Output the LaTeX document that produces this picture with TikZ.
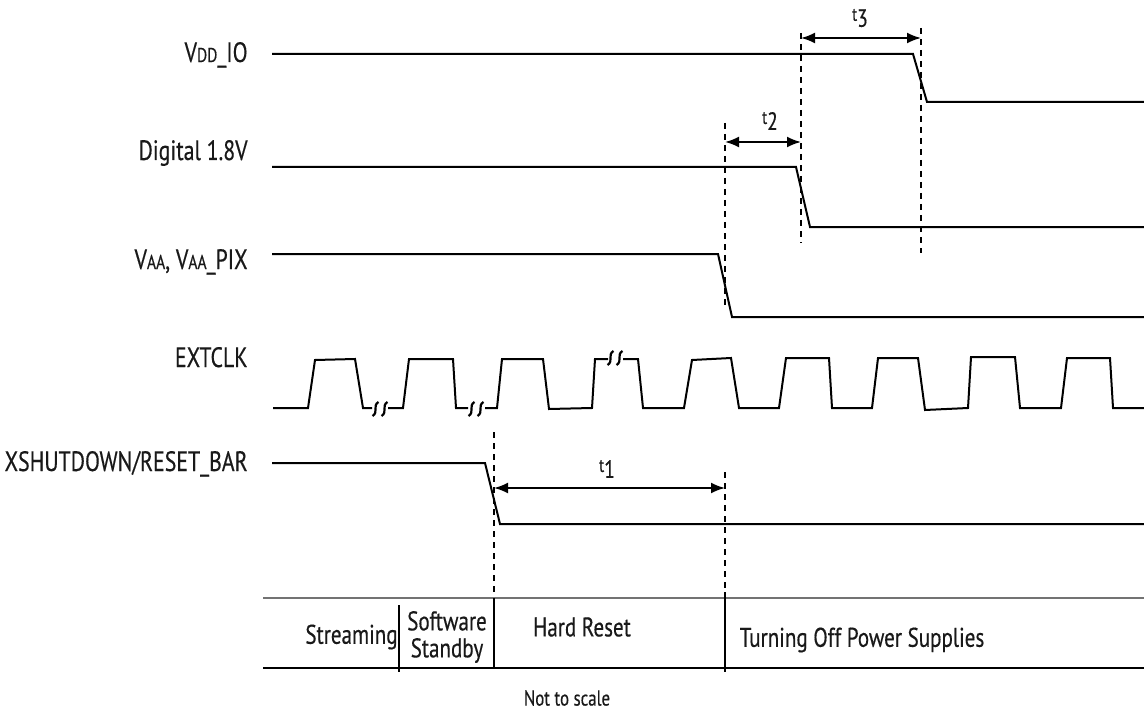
\documentclass[tikz,border=0pt]{standalone}
\usepackage{fontspec}
\setmainfont{PT Sans}[FakeStretch=0.78, FakeBold=0.4]
\usepackage{tikz}
\usetikzlibrary{arrows.meta}

% small capitals in the supply names
\newcommand{\lowcap}[1]{{\fontsize{10}{10}\selectfont #1}}
% timing parameter: small t with a larger index set low
\newcommand{\tpar}[1]{t\raisebox{-3pt}{\fontsize{12.5}{13}\selectfont #1}}

\tikzset{
    brk/.pic={\foreach \d in {-4.5,4.5}
        \draw[line width=1.1pt] (\d+3,-7) .. controls (\d-3.5,-3) and (\d+3.5,3) .. (\d-3,7);}
}

\begin{document}
\begin{tikzpicture}[
    x=0.5pt, y=-0.5pt,
    signal/.style={line width=1pt},
    guide/.style={line width=0.75pt, dash pattern=on 3pt off 2.5pt},
    span/.style={line width=1pt, {Latex[length=7pt,width=5.5pt]}-{Latex[length=7pt,width=5.5pt]}},
    lbl/.style={anchor=base east, inner sep=0pt, text=black!90, font=\fontsize{14}{16}\selectfont},
    tlbl/.style={inner sep=0pt, text=black!90, font=\fontsize{9.5}{10}\selectfont},
    cell/.style={inner sep=0pt, align=center, text=black!90, font=\fontsize{13.5}{13.5}\selectfont}
]
\useasboundingbox (0,0) rectangle (1144,711);

% signal names
\node[lbl] (vdd) at (248,62) {V\lowcap{DD}\_IO};
\node[lbl] (dig) at (248,160) {Digital 1.8V};
\node[lbl] (vaa) at (248,269) {V\lowcap{AA}, V\lowcap{AA}\_PIX};
\node[lbl] (clk) at (248,367) {EXTCLK};
\node[lbl] (rst) at (248,471) {XSHUTDOWN/RESET\_BAR};

% supplies and reset
\draw[signal] (272,54) -- (913,54) -- (927,102) -- (1144,102);
\draw[signal] (272,167) -- (796,167) -- (810,227) -- (1144,227);
\draw[signal] (272,254) -- (718,254) -- (732,317) -- (1144,317);
\draw[signal] (272,463) -- (485,463) -- (500,524) -- (1144,524);

% clock, with breaks
\draw[signal] (273,408) -- (308,408) -- (315,360) -- (355,359) -- (363,408) -- (372,408);
\draw[signal] (388,408) -- (403,408) -- (409,359) -- (453,359) -- (456,408) -- (468,408);
\draw[signal] (485,408) -- (497,408) -- (502,359) -- (543,359) -- (549,409) -- (592,408)
    -- (595,359) -- (608,359);
\draw[signal] (623,359) -- (638,359) -- (643,408) -- (684,408) -- (692,360) -- (731,358)
    -- (739,408) -- (779,408) -- (786,358) -- (829,358) -- (832,408) -- (872,408)
    -- (878,358) -- (918,358) -- (925,410) -- (968,408) -- (971,357) -- (1015,357)
    -- (1020,408) -- (1061,408) -- (1067,358) -- (1110,358) -- (1113,408) -- (1144,408);
\pic at (380,409) {brk};
\pic at (476,409) {brk};
\pic at (615,358) {brk};

% guides
\coordinate (a1) at (494,488);
\coordinate (b1) at (725,488);
\coordinate (a2) at (725,142);
\coordinate (b2) at (801,142);
\coordinate (a3) at (801,38);
\coordinate (b3) at (921,38);
\draw[guide] (494,432) -- (494,598);
\draw[guide] (725,472) -- (725,598);
\draw[guide] (725,123) -- (725,305);
\draw[guide] (801,33) -- (801,243);
\draw[guide] (921,28) -- (921,253);

\draw[span] (a1) -- (b1);
\draw[span] (a2) -- (b2);
\draw[span] (a3) -- (b3);
\node[tlbl] (t1) at (607,469) {\tpar{1}};
\node[tlbl] (t2) at (770,121) {\tpar{2}};
\node[tlbl] (t3) at (860,18) {\tpar{3}};

% state table
\draw[line width=1pt, black!55] (263,598) -- (1144,598);
\draw[line width=1pt] (263,668) -- (1144,668);
\draw[line width=0.8pt] (399,605) -- (399,672);
\draw[line width=0.8pt] (494,598) -- (494,668);
\draw[line width=0.8pt] (725,592) -- (725,672);

\node[cell, anchor=east] (s1) at (398,637) {Streaming};
\node[cell] (s2) at (447,637) {Software\\Standby};
\node[cell] (s3) at (582,627) {Hard Reset};
\node[cell] (s4) at (862,640) {Turning Off Power Supplies};
\node[cell, font=\fontsize{10.8}{11}\selectfont] (note) at (567,698) {Not to scale};
\end{tikzpicture}
\end{document}
